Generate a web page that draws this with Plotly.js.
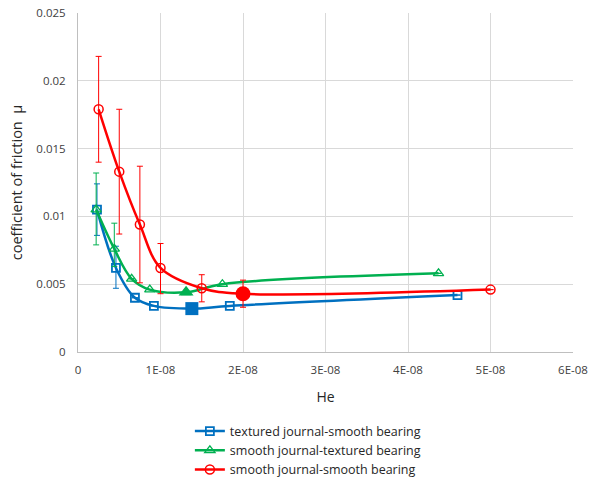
<!DOCTYPE html>
<html>
<head>
<meta charset="utf-8">
<script src="https://cdn.plot.ly/plotly-3.0.1.min.js"></script>
<style>html,body{margin:0;padding:0;background:#fff;}#chart{width:590px;height:479px;}</style>
</head>
<body>
<div id="chart"></div>
<script>
// ---- data ----
const seriesNames = ["textured journal-smooth bearing", "smooth journal-textured bearing", "smooth journal-smooth bearing"];

const blueX = [2.3e-9, 4.6e-9, 6.9e-9, 9.2e-9, 1.38e-8, 1.84e-8, 4.6e-8];
const blueY = [0.0105, 0.0062, 0.0040, 0.0034, 0.0032, 0.0034, 0.0042];
const blueErrPlus  = [0.0019, 0.0016, null, null, null, null, null];
const blueErrMinus = [0.0019, 0.0015, null, null, null, null, null];

const greenX = [2.2e-9, 4.4e-9, 6.5e-9, 8.7e-9, 1.31e-8, 1.75e-8, 4.37e-8];
const greenY = [0.0105, 0.0076, 0.0054, 0.0046, 0.0044, 0.0050, 0.0058];
const greenErrPlus  = [0.0027, 0.0019, null, null, null, null, null];
const greenErrMinus = [0.0026, 0.0013, null, null, null, null, null];

const redX = [2.5e-9, 5e-9, 7.5e-9, 1e-8, 1.5e-8, 2e-8, 5e-8];
const redY = [0.0179, 0.0133, 0.0094, 0.0062, 0.0047, 0.0043, 0.0046];
const redErrPlus  = [0.0039, 0.0046, 0.0043, 0.0018, 0.0010, 0.0010, null];
const redErrMinus = [0.0039, 0.0046, 0.0043, 0.0019, 0.0010, 0.0010, null];

const xTickVals = [0, 1e-8, 2e-8, 3e-8, 4e-8, 5e-8, 6e-8];
const xTickText = ["0", "1E-08", "2E-08", "3E-08", "4E-08", "5E-08", "6E-08"];
const yTickVals = [0, 0.005, 0.01, 0.015, 0.02, 0.025];
const yTickText = ["0", "0.005", "0.01", "0.015", "0.02", "0.025"];

// index of the highlighted (large, filled) point in each series
const highlightIdx = [4, 4, 5];

// ---- styling ----
const colors = ["#0070C0", "#00B050", "#FF0000"];
const openSymbols = ["square-open", "triangle-up-open", "circle-open"];
const filledSymbols = ["square", "triangle-up", "circle"];
const smallSizes = [8, 9, 9];
const markerLineW = [1.8, 1.3, 1.5];
const bigSizes = [13, 13, 15];

function mk(i, xs, ys, ep, em) {
  return {
    type: "scatter", mode: "lines+markers", name: seriesNames[i],
    x: xs, y: ys,
    line: {color: colors[i], width: 2.5, shape: "spline", smoothing: 1},
    marker: {color: colors[i], symbol: openSymbols[i], size: smallSizes[i], line: {color: colors[i], width: markerLineW[i]}},
    error_y: {type: "data", symmetric: false, array: ep, arrayminus: em,
              color: colors[i], thickness: 1, width: 3}
  };
}
function hl(i, xs, ys) {
  const k = highlightIdx[i];
  return {
    type: "scatter", mode: "markers", showlegend: false, hoverinfo: "skip",
    x: [xs[k]], y: [ys[k]],
    marker: {color: colors[i], symbol: filledSymbols[i], size: bigSizes[i], line: {width: 0}}
  };
}

const traces = [
  mk(0, blueX, blueY, blueErrPlus, blueErrMinus),
  mk(1, greenX, greenY, greenErrPlus, greenErrMinus),
  mk(2, redX, redY, redErrPlus, redErrMinus),
  hl(0, blueX, blueY), hl(1, greenX, greenY), hl(2, redX, redY)
];

const fam = "'Open Sans', 'DejaVu Sans', sans-serif";

const layout = {
  width: 590, height: 479,
  margin: {l: 77.5, r: 17, t: 13, b: 127, autoexpand: false},
  paper_bgcolor: "#fff", plot_bgcolor: "#fff",
  font: {family: fam, color: "#404040", size: 11},
  showlegend: true,
  legend: {x: 0.226, xanchor: "left", y: -0.19, yanchor: "top",
           font: {family: fam, size: 12.5, color: "#262626"},
           tracegroupgap: 0, itemwidth: 30, bgcolor: "rgba(0,0,0,0)"},
  xaxis: {
    range: [0, 6e-8], tickmode: "array", tickvals: xTickVals, ticktext: xTickText,
    showgrid: true, gridcolor: "#d9d9d9", gridwidth: 1,
    showline: true, linecolor: "#bfbfbf", linewidth: 1, zeroline: false,
    ticks: "", ticklabelstandoff: 7,
    tickfont: {family: fam, size: 11.5, color: "#404040"},
    title: {text: "He", font: {family: fam, size: 14, color: "#262626"}, standoff: 16}
  },
  yaxis: {
    range: [0, 0.025], tickmode: "array", tickvals: yTickVals, ticktext: yTickText,
    showgrid: true, gridcolor: "#d9d9d9", gridwidth: 1,
    showline: true, linecolor: "#bfbfbf", linewidth: 1, zeroline: false,
    ticks: "", ticklabelstandoff: 9,
    tickfont: {family: fam, size: 11.5, color: "#404040"},
    title: {text: "coefficient of friction  μ", font: {family: fam, size: 14.5, color: "#262626"}, standoff: 10}
  }
};

Plotly.newPlot("chart", traces, layout, {displayModeBar: false, staticPlot: true});
</script>
</body>
</html>
